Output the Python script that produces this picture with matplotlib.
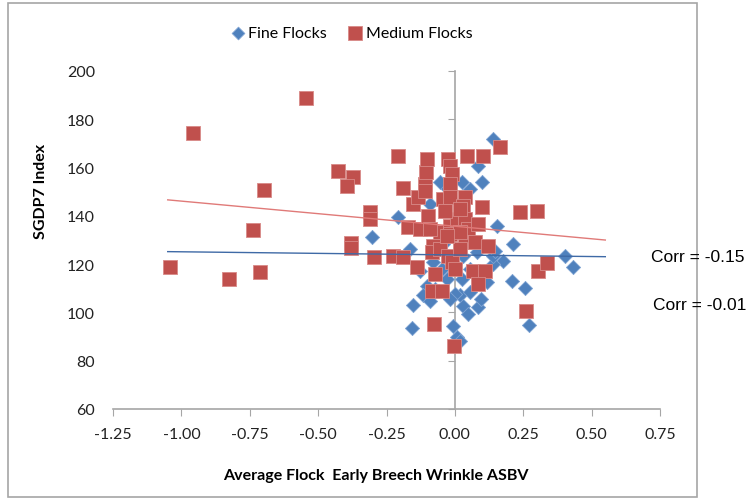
import matplotlib.pyplot as plt
from matplotlib.patches import Rectangle
import numpy as np

# Fine flocks (blue diamonds)
fine_x = [0.139, 0.084, 0.099, 0.055, -0.044, 0.026, -0.208, -0.303, -0.091, 0.154,
          0.212, 0.176, 0.208, 0.256, 0.271, -0.154, -0.157, -0.102, -0.117, -0.007,
          0.007, 0.018, 0.029, 0.084, 0.095, 0.139, 0.026, -0.029, -0.080, 0.029,
          0.080, 0.055, 0.139, -0.128, 0.402, 0.431, -0.091, 0.055, 0.000, 0.018,
          -0.044, 0.146, -0.055, -0.073, -0.018, 0.048, -0.048, 0.117, 0.000, -0.165]
fine_y = [171.8, 160.7, 154.0, 151.1, 153.2, 154.0, 139.5, 131.3, 144.9, 135.8,
          128.4, 121.3, 113.0, 110.1, 94.8, 103.1, 93.6, 111.0, 107.2, 94.4,
          89.8, 107.2, 102.7, 102.3, 105.6, 120.1, 113.9, 113.9, 120.9, 123.4,
          125.0, 118.0, 123.4, 117.2, 123.4, 118.8, 104.7, 108.5, 107.6, 88.2,
          128.4, 125.5, 154.0, 109.7, 105.6, 99.4, 118.0, 112.6, 120.0, 126.3]

# Medium flocks (red squares)
med_x = [-1.042, -0.958, -0.826, -0.698, -0.739, -0.713, -0.545, -0.428, -0.373, -0.395,
         -0.380, -0.380, -0.311, -0.311, -0.296, -0.208, -0.190, -0.227, -0.190, -0.172,
         -0.128, -0.154, -0.135, -0.110, -0.106, -0.102, -0.110, -0.099, -0.139, -0.080,
         -0.084, -0.073, -0.084, -0.048, -0.077, -0.026, -0.018, -0.011, -0.018, -0.044,
         -0.018, 0.037, 0.029, -0.055, -0.018, 0.007, 0.037, 0.048, 0.084, 0.099,
         -0.018, -0.055, -0.026, -0.011, 0.037, 0.073, 0.121, 0.066, 0.110, 0.084,
         0.044, 0.102, 0.165, 0.238, 0.300, 0.303, 0.260, -0.004, 0.336, 0.018,
         0.018, 0.000, -0.029, -0.091, 0.018, -0.037]
med_y = [118.8, 174.3, 113.9, 150.7, 134.2, 116.8, 188.8, 158.6, 156.1, 152.4,
         128.8, 126.7, 141.6, 138.7, 123.0, 164.8, 151.5, 123.4, 123.0, 135.4,
         134.6, 144.9, 147.8, 153.2, 158.2, 163.6, 150.3, 140.0, 118.8, 127.5,
         125.0, 115.9, 108.9, 108.9, 95.2, 163.6, 160.7, 157.3, 153.2, 147.0,
         147.8, 147.8, 144.1, 133.3, 135.8, 138.7, 138.7, 134.6, 136.6, 143.7,
         132.5, 126.3, 123.4, 120.9, 129.2, 129.2, 127.5, 117.2, 117.2, 111.8,
         164.8, 164.8, 168.5, 141.6, 142.0, 117.2, 100.6, 86.1, 120.5, 133.3,
         126.3, 118.0, 131.7, 134.6, 142.8, 142.0]

# linear trend lines (slope, intercept), drawn over x range
fine_trend = [-1.31, 123.8]
med_trend = [-10.4, 135.7]
trend_x = [-1.05, 0.55]

corr_labels = ["Corr = -0.15", "Corr = -0.01"]

blue = "#4F81BD"
red = "#C0504D"
grey = "#A6A6A6"

plt.rcParams["font.family"] = ["Lato", "DejaVu Sans"]

fig = plt.figure(figsize=(7.5, 5.02), dpi=100)
ax = fig.add_axes([0.1507, 0.1833, 0.7293, 0.6733])

ax.scatter(fine_x, fine_y, marker="D", s=52, color=blue, edgecolors="#7FA3D3",
           linewidths=0.6, zorder=3, label="Fine Flocks")
ax.scatter(med_x, med_y, marker="s", s=110, color=red, edgecolors="#D98A88",
           linewidths=0.6, zorder=4, label="Medium Flocks")

tx = np.array(trend_x)
ax.plot(tx, np.polyval(fine_trend, tx), color="#3F6AA6", lw=1.0, zorder=5)
ax.plot(tx, np.polyval(med_trend, tx), color="#E07A78", lw=1.0, zorder=5)

ax.set_xlim(-1.25, 0.75)
ax.set_ylim(60, 200)
xt = np.arange(-1.25, 0.76, 0.25)
ax.set_xticks(xt)
ax.set_xticklabels([f"{v:.2f}" for v in xt])
ax.set_yticks(range(60, 201, 20))

# vertical axis crosses at x = 0, labels stay at the left edge
ax.spines["top"].set_visible(False)
ax.spines["right"].set_visible(False)
ax.spines["left"].set_position(("data", 0))
for s in ["left", "bottom"]:
    ax.spines[s].set_color(grey)
    ax.spines[s].set_linewidth(1.2)
ax.tick_params(axis="x", direction="out", length=5, color=grey, labelsize=11.5,
               labelcolor="#222222", pad=8)
ax.tick_params(axis="y", direction="out", length=5, color=grey, labelleft=False)

sec = ax.secondary_yaxis("left")
sec.set_yticks(range(60, 201, 20))
sec.spines["left"].set_visible(False)
sec.tick_params(axis="y", length=0, labelsize=11.5, labelcolor="#222222", pad=13)

ax.set_xlabel("Average Flock  Early Breech Wrinkle ASBV", fontsize=11.5,
              fontweight="bold")
ax.xaxis.set_label_coords(0.481, -0.176)
ax.set_ylabel("SGDP7 Index", fontsize=11.5, fontweight="bold")
ax.yaxis.set_label_coords(-0.118, 0.648)

fig.legend(loc="center", bbox_to_anchor=(0.468, 0.932), ncol=2, frameon=False,
           fontsize=11.5, handletextpad=0.15, handlelength=1.0, columnspacing=1.3,
           markerscale=0.9)

# chart border
fig.add_artist(Rectangle((8 / 750, 0.008), 689 / 750, 0.984, transform=fig.transFigure,
                         fill=False, edgecolor=grey, lw=1.2))

fig.text(698 / 750, 1 - 258 / 502, corr_labels[0], family="Liberation Sans",
         fontsize=12.5, ha="center", va="center")
fig.text(700 / 750, 1 - 305 / 502, corr_labels[1], family="Liberation Sans",
         fontsize=12.5, ha="center", va="center")

fig.savefig("out.png", dpi=100)
